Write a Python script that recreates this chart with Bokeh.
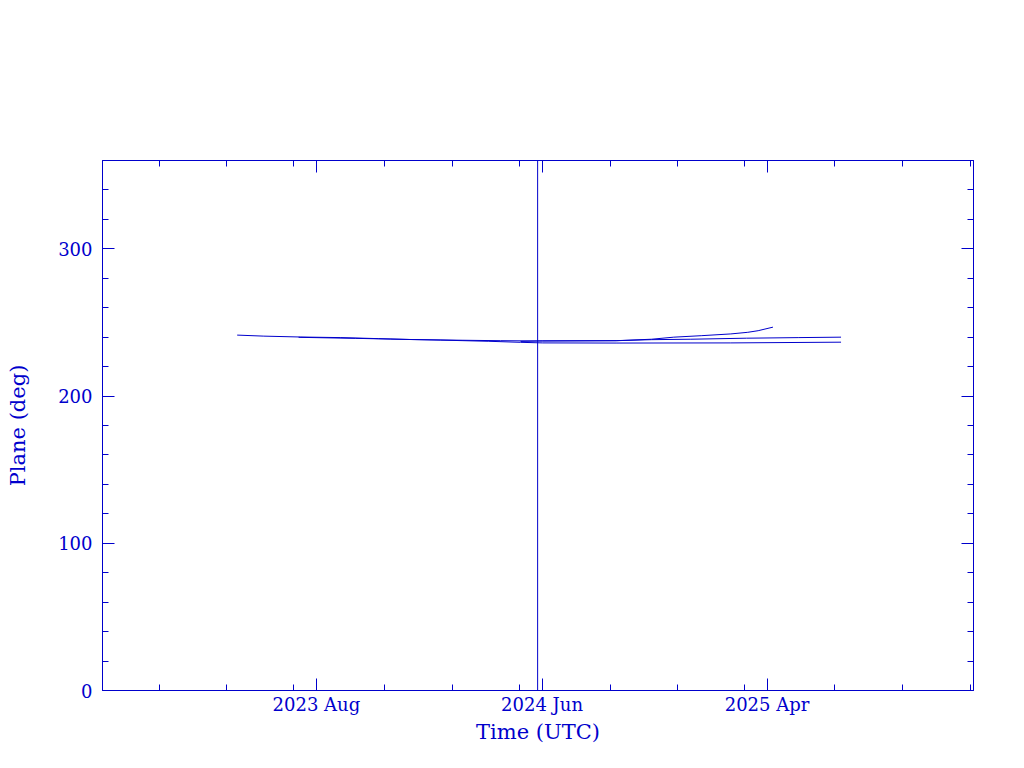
import pandas as pd
from bokeh.plotting import figure
from bokeh.models import (Range1d, FixedTicker, CustomJSTickFormatter, DatetimeAxis,
                          LinearAxis, Span)
from bokeh.embed import file_html
from bokeh.resources import INLINE

# ---- data ----
s1_dates = ["2023-04-16", "2023-05-22", "2023-07-11", "2023-09-03", "2023-10-24",
            "2023-12-06", "2024-02-15", "2024-04-06", "2024-06-02", "2024-09-09",
            "2024-10-27", "2024-11-26", "2025-01-02", "2025-02-11", "2025-03-06",
            "2025-03-20", "2025-04-09"]
s1_plane = [241.4, 240.7, 240.1, 239.7, 239.0,
            238.4, 237.9, 237.6, 237.4, 237.6,
            238.6, 240.0, 241.0, 242.2, 243.3,
            244.4, 246.8]

s2_dates = ["2023-07-08", "2023-09-23", "2023-11-09", "2024-01-16", "2024-03-21",
            "2024-05-03", "2024-06-02", "2024-09-09", "2025-02-11", "2025-07-10"]
s2_plane = [239.9, 239.2, 238.7, 238.0, 237.2,
            236.5, 236.1, 236.0, 236.1, 236.6]

s3_dates = ["2024-05-03", "2024-06-02", "2024-09-09", "2024-10-27", "2024-12-19",
            "2025-03-04", "2025-05-14", "2025-07-10"]
s3_plane = [237.1, 237.5, 237.6, 238.3, 238.6,
            239.3, 239.7, 240.0]

now_date = "2024-05-26"

x_start, x_end = "2022-10-16", "2026-01-05"
x_major = ["2023-08-01", "2024-06-01", "2025-04-01"]
x_minor = ["2023-01-01", "2023-04-01", "2023-07-01", "2023-11-01", "2024-02-01",
           "2024-05-01", "2024-09-01", "2024-12-01", "2025-03-01", "2025-07-01",
           "2025-10-01", "2026-01-01"]
y_major = [0, 100, 200, 300]
y_minor = [20, 40, 60, 80, 120, 140, 160, 180, 220, 240, 260, 280, 320, 340, 360]

BLUE = "#0000CC"
FONT = "DejaVu Serif"


def ms(d):
    return pd.Timestamp(d).value // 10**6


p = figure(width=1008, height=760, frame_width=871, frame_height=530,
           x_axis_type="datetime",
           x_range=Range1d(pd.Timestamp(x_start), pd.Timestamp(x_end)),
           y_range=Range1d(0, 360),
           output_backend="svg", toolbar_location=None,
           min_border_left=102, min_border_top=160, min_border_right=35,
           min_border_bottom=70)
p.background_fill_color = "white"
p.border_fill_color = "white"
p.outline_line_color = BLUE
p.grid.visible = False

xt = FixedTicker(ticks=[ms(d) for d in x_major], minor_ticks=[ms(d) for d in x_minor])
yt = FixedTicker(ticks=y_major, minor_ticks=y_minor)
fmt = CustomJSTickFormatter(code="""
const m = ["Jan","Feb","Mar","Apr","May","Jun","Jul","Aug","Sep","Oct","Nov","Dec"];
const d = new Date(tick);
return d.getUTCFullYear() + " " + m[d.getUTCMonth()];
""")


def style(ax, labels=True):
    ax.axis_line_color = BLUE
    ax.major_tick_line_color = BLUE
    ax.minor_tick_line_color = BLUE
    ax.major_tick_in = 12
    ax.major_tick_out = 0
    ax.minor_tick_in = 6
    ax.minor_tick_out = 0
    ax.major_label_text_color = BLUE if labels else None
    ax.major_label_text_font = FONT
    ax.major_label_text_font_size = "18px"
    ax.axis_label_text_color = BLUE
    ax.axis_label_text_font = FONT
    ax.axis_label_text_font_size = "21px"
    ax.axis_label_text_font_style = "normal"


xa = p.xaxis[0]
xa.ticker = xt
xa.formatter = fmt
xa.axis_label = "Time (UTC)"
style(xa)
xa.major_label_standoff = 3
xa.axis_label_standoff = 2

ya = p.yaxis[0]
ya.ticker = yt
ya.axis_label = "Plane (deg)"
style(ya)
ya.major_label_standoff = 10
ya.axis_label_standoff = 25

top = DatetimeAxis(ticker=xt, formatter=fmt)
style(top, labels=False)
top.major_label_standoff = 0
p.add_layout(top, "above")

right = LinearAxis(ticker=yt)
style(right, labels=False)
right.major_label_standoff = 0
p.add_layout(right, "right")

for dts, vals in [(s1_dates, s1_plane), (s2_dates, s2_plane), (s3_dates, s3_plane)]:
    p.line(x=pd.to_datetime(dts), y=vals, line_color=BLUE, line_width=1)

p.add_layout(Span(location=ms(now_date), dimension="height", line_color=BLUE, line_width=1))

open("out.html", "w").write(file_html(p, INLINE))
